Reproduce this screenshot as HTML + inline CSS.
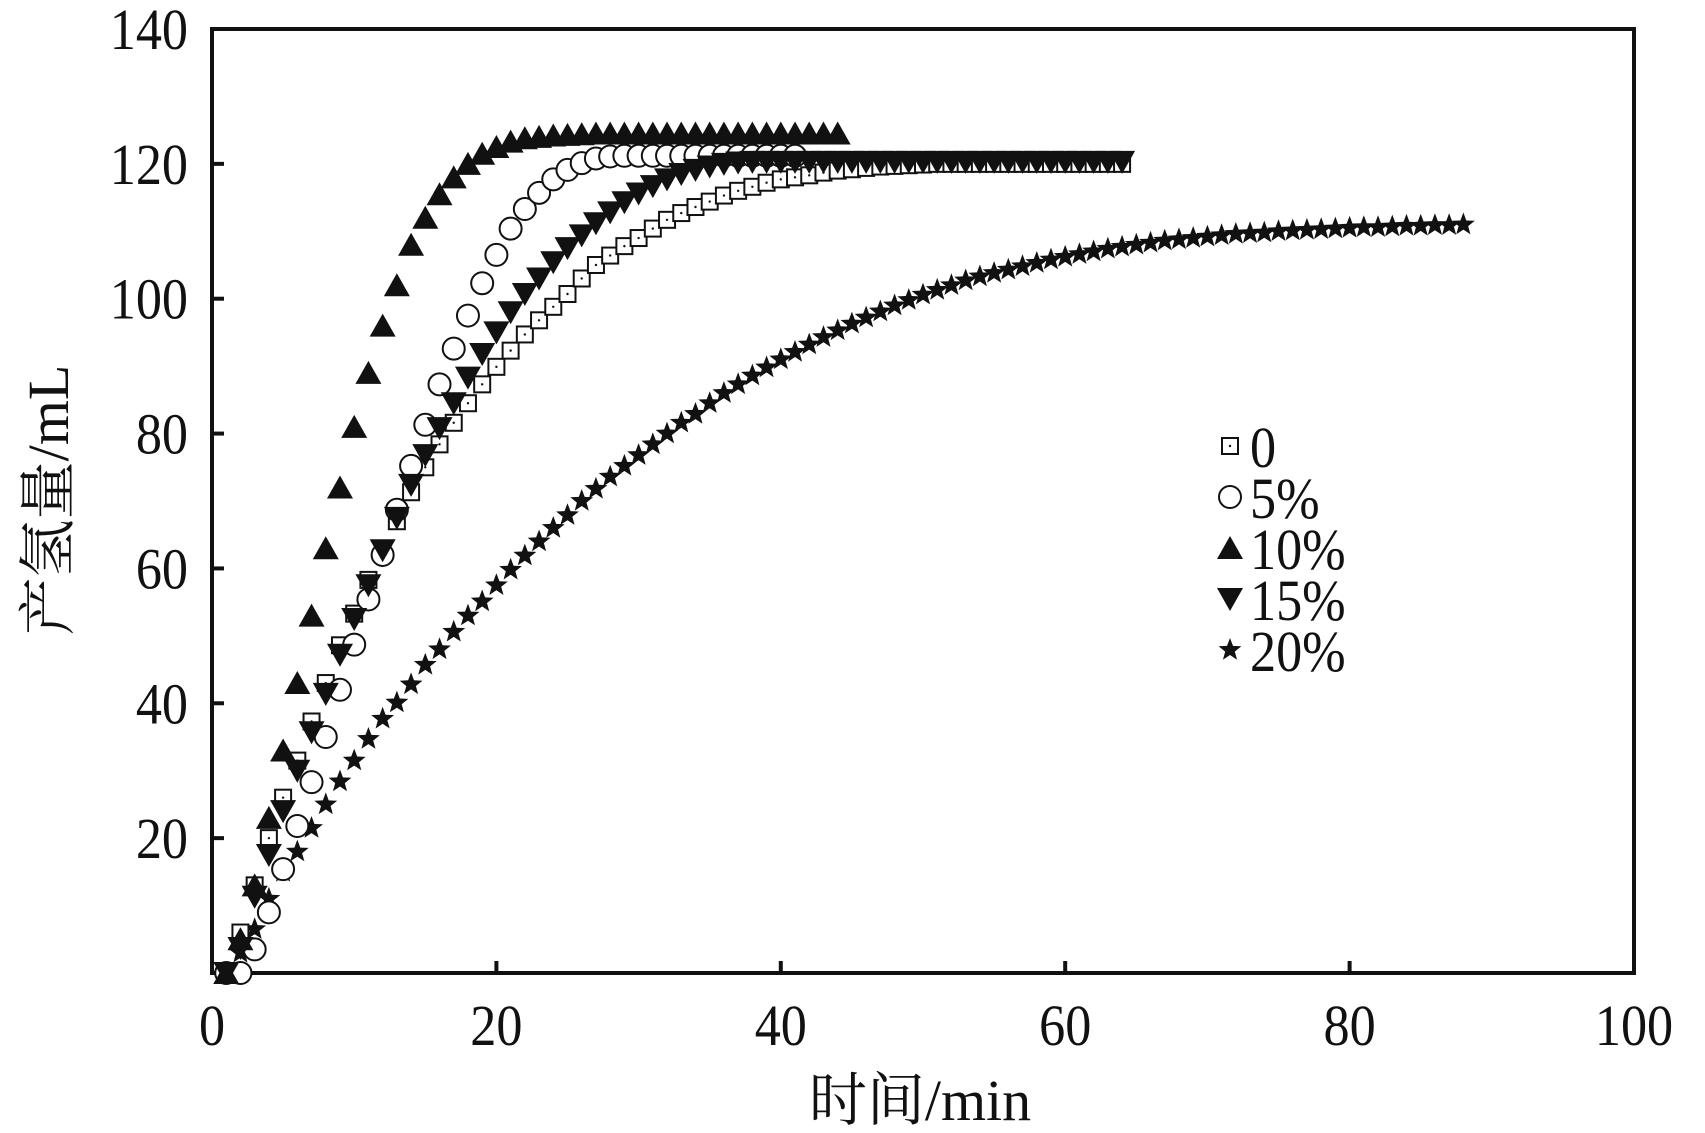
<!DOCTYPE html>
<html><head><meta charset="utf-8"><style>
html,body{margin:0;padding:0;background:#fff;}
svg{display:block;}
text{font-family:"Liberation Serif","Times New Roman",Times,serif;fill:#111;}
text.cjk{font-family:"Liberation Serif","Noto Serif CJK SC",serif;}
</style></head><body>
<svg id="chart" width="1705" height="1133" viewBox="0 0 1705 1133" xmlns="http://www.w3.org/2000/svg">
<g id="axes"></g>
<g id="series"></g>
<g id="legend"></g>
</svg>
<script>
const xTicks = [0,20,40,60,80,100];
const yTicks = [20,40,60,80,100,120,140];
const s10 = [0,5,13,23,33,43,53,63,72,81,89,96,102,108,112,115.5,118,120,121.5,122.5,123.3,123.8,124,124.2,124.3,124.4,124.5,124.5,124.5,124.5,124.5,124.5,124.5,124.5,124.5,124.5,124.5,124.5,124.5,124.5,124.5,124.5,124.5,124.5];
const s0 = [0,6,13,20,26,31.5,37.3,43,48.6,53.3,58.3,62.7,67,71.3,75,78.4,81.6,84.5,87.3,89.9,92.3,94.7,96.8,98.8,100.7,103,105,106.4,107.8,109,110.4,111.7,112.7,113.6,114.4,115.3,116,116.6,117.2,117.7,118,118.3,118.7,119,119.2,119.4,119.6,119.7,119.8,119.9,120,120,120,120,120,120,120,120,120,120,120,120,120,120];
const s5 = [0,0,3.5,9,15.4,21.8,28.3,35,42,48.7,55.4,62,68.7,75.2,81.3,87.3,92.6,97.5,102.3,106.5,110.4,113.3,115.7,117.7,119.1,120.1,120.8,121.1,121.2,121.2,121.2,121.2,121.2,121.2,121.2,121.2,121.2,121.2,121.2,121.2,121.2];
const s15 = [0,3.7,11.3,17.5,24,30,35.7,41.4,47.2,52.5,57.5,62.7,67.5,72.4,76.8,80.8,84.5,88.3,91.8,95,98,100.7,103,105.4,107.5,109.4,111.2,112.8,114.3,115.6,116.7,117.7,118.5,119.1,119.6,120,120.2,120.3,120.3,120.3,120.3,120.3,120.3,120.3,120.3,120.3,120.3,120.3,120.3,120.3,120.3,120.3,120.3,120.3,120.3,120.3,120.3,120.3,120.3,120.3,120.3,120.3,120.3,120.3];
const s20 = [0,3,6.5,11,15,18,21.5,25,28.4,31.5,34.7,37.7,40.1,42.8,45.7,48,50.6,53,55.1,57.5,59.8,61.9,64,66,67.9,70,71.8,73.6,75.2,76.8,78.4,80,81.6,82.9,84.5,86,87.3,88.6,89.8,91,92.1,93.2,94.3,95.3,96.3,97.2,98.1,99,99.8,100.6,101.3,102,102.7,103.3,103.8,104.3,104.8,105.3,105.8,106.2,106.6,107,107.4,107.7,108,108.3,108.6,108.8,109,109.2,109.4,109.6,109.7,109.8,110,110.1,110.2,110.3,110.4,110.5,110.6,110.6,110.7,110.8,110.8,110.9,110.9,111];
const seriesNames = ["0","5%","10%","15%","20%"];

const L=212,R=1634,T=29,B=973;
const xs = v => L + (v/100)*(R-L);
const ys = v => B - (v/140)*(B-T);
const NS="http://www.w3.org/2000/svg";
function mk(tag, attrs, parent){const e=document.createElementNS(NS,tag);for(const k in attrs)e.setAttribute(k,attrs[k]);parent.appendChild(e);return e;}
const axes=document.getElementById('axes');
let frame=mk('rect',{x:L,y:T,width:R-L,height:B-T,fill:'none',stroke:'#111','stroke-width':4},axes);


xTicks.forEach(v=>{
  if(v>0&&v<100){let t=mk('line',{x1:xs(v),x2:xs(v),y1:B,y2:B-12,stroke:'#111','stroke-width':4},axes);
  
  }
  let tx=mk('text',{x:xs(v),y:1045,'text-anchor':'middle','font-size':58,transform:`translate(${xs(v)},0) scale(0.9,1) translate(${-xs(v)},0)`},axes);tx.textContent=v;
  
  
});
yTicks.forEach(v=>{
  if(v<140){let t=mk('line',{x1:L,x2:L+12,y1:ys(v),y2:ys(v),stroke:'#111','stroke-width':4},axes);
  
  }
  let tx=mk('text',{x:188,y:ys(v)+20,'text-anchor':'end','font-size':58,transform:'translate(188,0) scale(0.9,1) translate(-188,0)'},axes);tx.textContent=v;
  
  
});
let xt=mk('text',{x:920,y:1120,'text-anchor':'middle','font-size':58,'class':'cjk'},axes);xt.textContent='时间/min';


let yt=mk('text',{x:0,y:0,'text-anchor':'middle','font-size':58,'class':'cjk',transform:'translate(68,500) rotate(-90)'},axes);yt.textContent='产氢量/mL';



function starPath(cx,cy,r){let d='';for(let i=0;i<10;i++){const a=-Math.PI/2+i*Math.PI/5;const rr=i%2?r*0.42:r;d+=(i?'L':'M')+(cx+rr*Math.cos(a)).toFixed(1)+','+(cy+rr*Math.sin(a)).toFixed(1);}return d+'Z';}
function marker(type,cx,cy,g){
  let e;
  if(type===0){e=mk('g',{},g);mk('rect',{x:cx-8,y:cy-8,width:16,height:16,fill:'#fff',stroke:'#111','stroke-width':2},e);mk('circle',{cx:cx,cy:cy,r:1.2,fill:'#111'},e);}
  else if(type===1){e=mk('circle',{cx:cx,cy:cy,r:11,fill:'#fff',stroke:'#111','stroke-width':2},g);}
  else if(type===2){e=mk('path',{d:`M${cx},${cy-12}L${cx+13},${cy+11}L${cx-13},${cy+11}Z`,fill:'#111'},g);}
  else if(type===3){e=mk('path',{d:`M${cx-13},${cy-11}L${cx+13},${cy-11}L${cx},${cy+12}Z`,fill:'#111'},g);}
  else {e=mk('path',{d:starPath(cx,cy,12),fill:'#111'},g);}
  return e;
}
const data=[s0,s5,s10,s15,s20];
const sg=document.getElementById('series');
[4,0,1,3,2].forEach(si=>{
  const g=mk('g',{},sg);
  
  
  data[si].forEach((v,i)=>{
    const m=marker(si,xs(i+1),ys(v),g);
    
    
  });
});
const lg=document.getElementById('legend');
const ly=[446,497,548,599,650];
seriesNames.forEach((n,i)=>{
  const e=mk('g',{},lg);
  
  
  marker(i,1230,ly[i],e);
  const t=mk('text',{x:1250,y:ly[i]+21,'font-size':58,transform:'translate(1250,0) scale(0.9,1) translate(-1250,0)'},e);t.textContent=n;
});
</script>
</body></html>
